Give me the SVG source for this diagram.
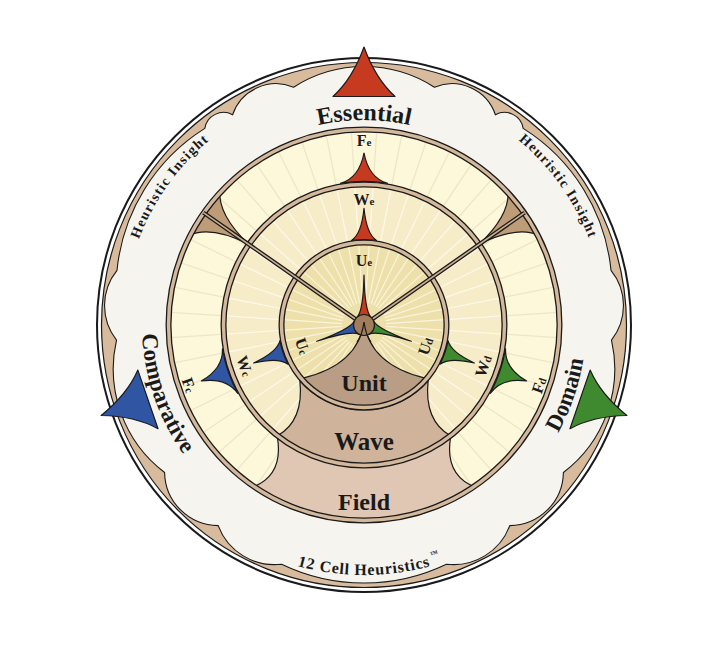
<svg xmlns="http://www.w3.org/2000/svg" width="726" height="649" viewBox="0 0 726 649">
<defs>
<style>
.ol{fill:none;stroke:#1a1a1a}
.tent{stroke:#1a1a1a;stroke-width:1.2;stroke-linejoin:round}
.red{fill:#c63b1f}.blue{fill:#2f55a3}.green{fill:#3f8a2e}
.bk{fill:none;stroke:#1a1a1a;stroke-width:6}
.bt{fill:none;stroke:#d4b89c;stroke-width:3.4}
.lbl{font-family:"Liberation Serif","DejaVu Serif",serif;font-weight:bold;fill:#1a1a1a}
.sm{font-size:11px}
</style>
<line id="lf" x1="364" y1="131" x2="364" y2="186"/>
<line id="lw" x1="364" y1="186" x2="364" y2="242"/>
<line id="lu" x1="364" y1="244" x2="364" y2="303"/>
<g id="lf6"><use href="#lf" transform="rotate(3.75 364 325)"/><use href="#lf" transform="rotate(11.25 364 325)"/><use href="#lf" transform="rotate(18.75 364 325)"/><use href="#lf" transform="rotate(26.25 364 325)"/><use href="#lf" transform="rotate(33.75 364 325)"/><use href="#lf" transform="rotate(41.25 364 325)"/></g>
<g id="lw6"><use href="#lw" transform="rotate(3.75 364 325)"/><use href="#lw" transform="rotate(11.25 364 325)"/><use href="#lw" transform="rotate(18.75 364 325)"/><use href="#lw" transform="rotate(26.25 364 325)"/><use href="#lw" transform="rotate(33.75 364 325)"/><use href="#lw" transform="rotate(41.25 364 325)"/></g>
<g id="lu6"><use href="#lu" transform="rotate(3.75 364 325)"/><use href="#lu" transform="rotate(11.25 364 325)"/><use href="#lu" transform="rotate(18.75 364 325)"/><use href="#lu" transform="rotate(26.25 364 325)"/><use href="#lu" transform="rotate(33.75 364 325)"/><use href="#lu" transform="rotate(41.25 364 325)"/></g>
<path id="tE" d="M 333,96.5 Q 352.5,78.7 364,47 Q 375.5,78.7 395,96.5 Z"/>
<path id="tF" d="M 340.5,183.4 Q 359.3,177.7 364,153 Q 368.7,177.7 387.5,183.4 A 143.5 143.5 0 0 0 340.5,183.4 Z"/>
<path id="tW" d="M 351.5,240.4 Q 361.5,234 364,208.3 Q 366.5,234 376.5,240.4 A 85.5 85.5 0 0 0 351.5,240.4 Z"/>
<path id="tU" d="M 357,317.2 Q 363.3,310.9 364,275 Q 364.7,310.9 371,317.2 Z"/>
<path id="pEss" d="M 261.5,147.5 A 205 205 0 0 1 466.5,147.5"/>
<path id="pCmp" d="M 146.1,282.6 A 222 222 0 0 0 218.3,492.5"/>
<path id="pDom" d="M 509.7,492.5 A 222 222 0 0 0 581.9,282.6"/>
<path id="pHL" d="M 127,281.1 A 242 242 0 0 1 245.3,115.2"/>
<path id="pHR" d="M 482.7,115.2 A 242 242 0 0 1 601,281.1"/>
<path id="pBot" d="M 239,541.5 A 250 250 0 0 0 489,541.5"/>
</defs>

<g id="frame">
<circle cx="364" cy="325" r="267" fill="#ffffff" stroke="#1a1a1a" stroke-width="2"/>
<circle cx="364" cy="325" r="262.5" fill="#d7bb9c" stroke="#1a1a1a" stroke-width="1.2"/>
<path fill="#f5f4ef" stroke="#1a1a1a" stroke-width="1.1" d="M 293.6,87.2 A 130 130 0 0 1 434.4,87.2 A 46 46 0 0 1 495.4,114.7 A 19 19 0 0 1 523.2,128.4 A 190 190 0 0 1 611,270.3 A 56 56 0 0 1 611.5,340.1 A 130 130 0 0 1 563.4,472.5 A 54 54 0 0 1 509.8,525.6 A 60 60 0 0 1 446.4,564.2 A 190 190 0 0 1 281.6,564.2 A 60 60 0 0 1 218.2,525.6 A 54 54 0 0 1 164.6,472.5 A 130 130 0 0 1 116.5,340.1 A 56 56 0 0 1 117,270.3 A 190 190 0 0 1 204.8,128.4 A 19 19 0 0 1 232.6,114.7 A 46 46 0 0 1 293.6,87.2 Z"/>
</g>

<g id="field-ring">
<circle cx="364" cy="325" r="195.5" fill="#fdf8d9"/>
<g stroke="#ede6c9" stroke-width="1.3">
<use href="#lf6"/><use href="#lf6" transform="rotate(45 364 325)"/><use href="#lf6" transform="rotate(90 364 325)"/><use href="#lf6" transform="rotate(135 364 325)"/><use href="#lf6" transform="rotate(180 364 325)"/><use href="#lf6" transform="rotate(225 364 325)"/><use href="#lf6" transform="rotate(270 364 325)"/><use href="#lf6" transform="rotate(315 364 325)"/>
</g>
<path fill="#bf9c78" stroke="#1a1a1a" stroke-width="1.2" d="M 508.1,190.6 A 197 197 0 0 1 539.5,235.6 Q 517.5,225.3 479.5,244.1 Q 510.1,214.9 508.1,190.6 Z"/>
<path fill="#bf9c78" stroke="#1a1a1a" stroke-width="1.2" d="M 219.9,190.6 A 197 197 0 0 0 188.5,235.6 Q 210.5,225.3 248.5,244.1 Q 217.9,214.9 219.9,190.6 Z"/>
</g>
<g id="field">
<path fill="#e0c7b4" stroke="#1a1a1a" stroke-width="1.2" d="M 277.2,436.1 A 141 141 0 0 0 450.8,436.1 Q 443.8,475.1 475.6,487.4 A 197 197 0 0 1 252.4,487.4 Q 284.2,475.1 277.2,436.1 Z"/>
</g>

<g id="wave-ring">
<circle cx="364" cy="325" r="140.5" fill="#f6ecc8"/>
<g stroke="#fdf8ea" stroke-width="1.3">
<use href="#lw6"/><use href="#lw6" transform="rotate(45 364 325)"/><use href="#lw6" transform="rotate(90 364 325)"/><use href="#lw6" transform="rotate(135 364 325)"/><use href="#lw6" transform="rotate(180 364 325)"/><use href="#lw6" transform="rotate(225 364 325)"/><use href="#lw6" transform="rotate(270 364 325)"/><use href="#lw6" transform="rotate(315 364 325)"/>
</g>
</g>
<g id="wave">
<path fill="#cfb49b" stroke="#1a1a1a" stroke-width="1.2" d="M 299.9,380.8 A 85 85 0 0 0 428.1,380.8 Q 423.9,420.8 450.8,436.1 A 141 141 0 0 1 277.2,436.1 Q 304.1,420.8 299.9,380.8 Z"/>
</g>

<g id="unit-ring">
<circle cx="364" cy="325" r="82.5" fill="#eee0aa"/>
<g stroke="#faf4dc" stroke-width="1.2">
<use href="#lu6"/><use href="#lu6" transform="rotate(45 364 325)"/><use href="#lu6" transform="rotate(90 364 325)"/><use href="#lu6" transform="rotate(135 364 325)"/><use href="#lu6" transform="rotate(180 364 325)"/><use href="#lu6" transform="rotate(225 364 325)"/><use href="#lu6" transform="rotate(270 364 325)"/><use href="#lu6" transform="rotate(315 364 325)"/>
</g>
</g>
<g id="unit">
<path fill="#b99d84" stroke="#1a1a1a" stroke-width="1.2" d="M 364,322 Q 358,365 302.9,378.1 A 81 81 0 0 0 425.1,378.1 Q 370,365 364,322 Z"/>
</g>

<g id="borders">
<circle class="bk" cx="364" cy="325" r="195.5"/><circle class="bt" cx="364" cy="325" r="195.5"/>
<circle class="bk" cx="364" cy="325" r="140.5"/><circle class="bt" cx="364" cy="325" r="140.5"/>
<circle class="bk" cx="364" cy="325" r="82.5"/><circle class="bt" cx="364" cy="325" r="82.5"/>
</g>

<g id="connectors">
<path d="M 364,325 L 524.6,212.6 M 364,325 L 203.4,212.6" stroke="#1a1a1a" stroke-width="4.2" fill="none"/>
<path d="M 364,325 L 524.6,212.6 M 364,325 L 203.4,212.6" stroke="#c9ad8f" stroke-width="1.6" fill="none"/>
</g>

<g id="essential-axis">
<use href="#tE" class="tent red"/><use href="#tF" class="tent red"/><use href="#tW" class="tent red"/><use href="#tU" class="tent red"/>
</g>
<g id="comparative-axis" transform="rotate(-109 364 325)">
<use href="#tE" class="tent blue"/><use href="#tF" class="tent blue"/><use href="#tW" class="tent blue"/><use href="#tU" class="tent blue"/>
</g>
<g id="domain-axis" transform="rotate(109 364 325)">
<use href="#tE" class="tent green"/><use href="#tF" class="tent green"/><use href="#tW" class="tent green"/><use href="#tU" class="tent green"/>
</g>

<g id="center">
<circle cx="364" cy="325" r="10.5" fill="#a17d5c" stroke="#1a1a1a" stroke-width="1.2"/>
<path class="ol" stroke-width="1.2" d="M 364,322 Q 362,336 357,342 M 364,322 Q 366,336 371,342"/>
</g>

<g id="labels" class="lbl">
<text font-size="24" text-anchor="middle"><textPath href="#pEss" startOffset="50%">Essential</textPath></text>
<text font-size="23" text-anchor="middle"><textPath href="#pCmp" startOffset="50%">Comparative</textPath></text>
<text font-size="23" text-anchor="middle"><textPath href="#pDom" startOffset="50%">Domain</textPath></text>
<text font-size="14" letter-spacing="1.3" text-anchor="middle"><textPath href="#pHL" startOffset="50%">Heuristic Insight</textPath></text>
<text font-size="14" letter-spacing="1.3" text-anchor="middle"><textPath href="#pHR" startOffset="50%">Heuristic Insight</textPath></text>
<text font-size="16" letter-spacing="0.8" text-anchor="middle"><textPath href="#pBot" startOffset="50%">12 Cell Heuristics</textPath></text>
<text font-size="8" x="431" y="557.5" transform="rotate(-17 431 557.5)">™</text>
<text font-size="24" x="364" y="391" text-anchor="middle">Unit</text>
<text font-size="25" x="364" y="450" text-anchor="middle">Wave</text>
<text font-size="24" x="364" y="510" text-anchor="middle">Field</text>
<text font-size="16" x="364" y="265.5" text-anchor="middle">U<tspan class="sm">e</tspan></text>
<text font-size="16" x="364" y="204.5" text-anchor="middle">W<tspan class="sm">e</tspan></text>
<text font-size="16" x="364" y="145.5" text-anchor="middle">F<tspan class="sm">e</tspan></text>
<text font-size="16" x="302.5" y="351.7" text-anchor="middle" transform="rotate(71 302.5 346.2)">U<tspan class="sm">c</tspan></text>
<text font-size="16" x="244.9" y="371.5" text-anchor="middle" transform="rotate(71 244.9 366)">W<tspan class="sm">c</tspan></text>
<text font-size="16" x="189.1" y="390.7" text-anchor="middle" transform="rotate(71 189.1 385.2)">F<tspan class="sm">c</tspan></text>
<text font-size="16" x="425.5" y="351.7" text-anchor="middle" transform="rotate(-71 425.5 346.2)">U<tspan class="sm">d</tspan></text>
<text font-size="16" x="483.1" y="371.5" text-anchor="middle" transform="rotate(-71 483.1 366)">W<tspan class="sm">d</tspan></text>
<text font-size="16" x="538.9" y="390.7" text-anchor="middle" transform="rotate(-71 538.9 385.2)">F<tspan class="sm">d</tspan></text>
</g>
</svg>
